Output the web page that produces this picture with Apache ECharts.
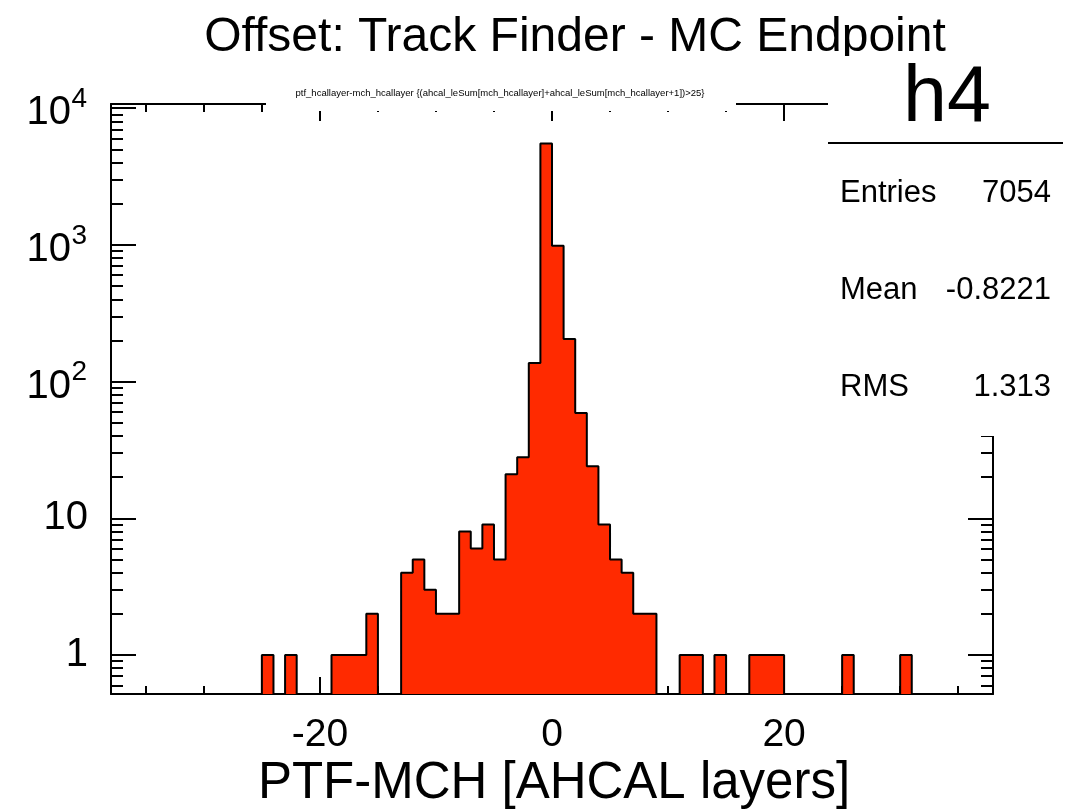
<!DOCTYPE html>
<html>
<head>
<meta charset="utf-8">
<script src="https://cdn.jsdelivr.net/npm/echarts@6/dist/echarts.min.js"></script>
<style>
html,body{margin:0;padding:0;background:#fff;}
#chart{width:1083px;height:809px;}
</style>
</head>
<body>
<div id="chart"></div>
<script>
// ---- data ----
const BIN_START = -26;   // left edge of the first bin listed below, bin width = 1
const binCounts = [
  0, 1, 0, 1, 0, 0, 0, 1, 1, 1, 2, 0, 0,      // -26 .. -14
  4, 5, 3, 2, 2, 8, 6, 9, 5, 21, 28, 137,      // -13 .. -2
  5530, 986, 205, 59, 24, 9, 5, 4, 2, 2,       // -1 .. 8
  0, 0, 1, 1, 0, 1, 0, 0, 1, 1, 1,             // 9 .. 19
  0, 0, 0, 0, 0, 1, 0, 0, 0, 0, 1, 0           // 20 .. 31
];
const X_MIN = -38, X_MAX = 38;
const Y_MIN = 0.518, Y_MAX = 10740;
const xMinorTicks = [-35,-30,-25,-15,-10,-5,5,10,15,25,30,35];
const xMajorTicks = [-20, 0, 20];
const yMajorTicks = [1, 10, 100, 1000, 10000];
const yPlainLabels = [1, 10];            // written as "1", "10"
const yPowerLabels = [100, 1000, 10000]; // written as 10 with a superscript exponent
const yMinorTicks = [0.6,0.7,0.8,0.9,2,3,4,5,6,7,8,9,20,30,40,50,60,70,80,90,
  200,300,400,500,600,700,800,900,2000,3000,4000,5000,6000,7000,8000,9000];
const titleText = 'Offset: Track Finder - MC Endpoint';
const cutText = 'ptf_hcallayer-mch_hcallayer {(ahcal_leSum[mch_hcallayer]+ahcal_leSum[mch_hcallayer+1])>25}';
const xTitle = 'PTF-MCH [AHCAL layers]';
const statsName = 'h4';
const statsLabels = ['Entries', 'Mean', 'RMS'];
const statsValues = ['7054', '-0.8221', '1.313'];

// ---- build step data ----
const stepData = [];
for (let i = 0; i < binCounts.length; i++) {
  const c = binCounts[i] > 0 ? binCounts[i] : Y_MIN;
  stepData.push([BIN_START + i, c]);
}
stepData.push([BIN_START + binCounts.length, stepData[stepData.length - 1][1]]);

const FONT = 'Liberation Sans, Arial, Helvetica, sans-serif';
const BLACK = '#000';

function xAxisDef(pos, ticks, len, showLine, labels) {
  return {
    type: 'value', position: pos, min: X_MIN, max: X_MAX,
    axisLine: { show: showLine, onZero: false, lineStyle: { color: BLACK, width: 2 } },
    axisTick: { show: true, inside: true, length: len, customValues: ticks, lineStyle: { color: BLACK, width: 2 } },
    axisLabel: labels ? { show: true, customValues: xMajorTicks, margin: 22, color: BLACK,
      fontFamily: FONT, fontSize: 39, formatter: v => String(Math.round(v)) } : { show: false },
    splitLine: { show: false }
  };
}
function yAxisDef(pos, ticks, len, showLine, label) {
  return {
    type: 'log', logBase: 10, position: pos, min: Y_MIN, max: Y_MAX,
    axisLine: { show: showLine, onZero: false, lineStyle: { color: BLACK, width: 2 } },
    axisTick: ticks ? { show: true, inside: true, length: len, customValues: ticks, lineStyle: { color: BLACK, width: 2 } } : { show: false },
    axisLabel: label ? Object.assign({ show: true, color: BLACK, fontFamily: FONT }, label) : { show: false },
    splitLine: { show: false },
    minorTick: { show: false }
  };
}
const expOf = v => String(Math.round(Math.log10(v)));

const chart = echarts.init(document.getElementById('chart'), null, { renderer: 'canvas' });
chart.setOption({
  animation: false,
  backgroundColor: '#fff',
  grid: { left: 111, right: 90, top: 104, bottom: 115, containLabel: false },
  xAxis: [
    xAxisDef('bottom', xMinorTicks, 8, true, true),
    xAxisDef('bottom', xMajorTicks, 17, false, false),
    xAxisDef('top', xMinorTicks, 8, true, false),
    xAxisDef('top', xMajorTicks, 17, false, false)
  ],
  yAxis: [
    yAxisDef('left', yMajorTicks, 25, true, { customValues: yPlainLabels, margin: 23, fontSize: 40,
      formatter: v => String(Math.round(v)) }),
    yAxisDef('left', yMinorTicks, 12, false, null),
    yAxisDef('right', yMajorTicks, 25, true, null),
    yAxisDef('right', yMinorTicks, 12, false, null),
    yAxisDef('left', null, 0, false, { customValues: yPowerLabels, margin: 40, fontSize: 40,
      verticalAlign: 'top', lineHeight: 10, formatter: () => '10' }),
    yAxisDef('left', null, 0, false, { customValues: yPowerLabels, margin: 24, fontSize: 28,
      verticalAlign: 'bottom', lineHeight: 18, formatter: expOf })
  ],
  series: [{
    type: 'line',
    xAxisIndex: 0, yAxisIndex: 0,
    step: 'end',
    data: stepData,
    symbol: 'none',
    lineStyle: { color: BLACK, width: 2 },
    areaStyle: { color: '#ff2a00', opacity: 1, origin: 'start' },
    z: 1
  }],
  graphic: [
    { type: 'text', z: 100, x: 575, y: 38, style: { text: titleText, fontFamily: FONT, fontSize: 48,
        fill: BLACK, align: 'center', verticalAlign: 'middle' } },
    { type: 'rect', z: 100, shape: { x: 266, y: 80, width: 470, height: 31 }, style: { fill: '#fff' } },
    { type: 'text', z: 101, x: 500, y: 93, style: { text: cutText, fontFamily: 'Liberation Sans Narrow, Liberation Sans, sans-serif',
        fontSize: 9.5, fill: BLACK, align: 'center', verticalAlign: 'middle' } },
    { type: 'rect', z: 100, shape: { x: 828, y: 56, width: 236, height: 380 }, style: { fill: '#fff' } },
    { type: 'line', z: 101, shape: { x1: 828, y1: 143, x2: 1063, y2: 143 }, style: { stroke: BLACK, lineWidth: 2 } },
    { type: 'text', z: 101, x: 947, y: 99, style: { text: statsName, fontFamily: FONT, fontSize: 79,
        fill: BLACK, align: 'center', verticalAlign: 'middle' } },
    ...statsLabels.map((t, i) => ({ type: 'text', z: 101, x: 840, y: 193 + i * 97,
        style: { text: t, fontFamily: FONT, fontSize: 31, fill: BLACK, align: 'left', verticalAlign: 'middle' } })),
    ...statsValues.map((t, i) => ({ type: 'text', z: 101, x: 1051, y: 193 + i * 97,
        style: { text: t, fontFamily: FONT, fontSize: 31, fill: BLACK, align: 'right', verticalAlign: 'middle' } })),
    { type: 'text', z: 100, x: 554, y: 784, style: { text: xTitle, fontFamily: FONT, fontSize: 51,
        fill: BLACK, align: 'center', verticalAlign: 'middle' } }
  ]
});
</script>
</body>
</html>
